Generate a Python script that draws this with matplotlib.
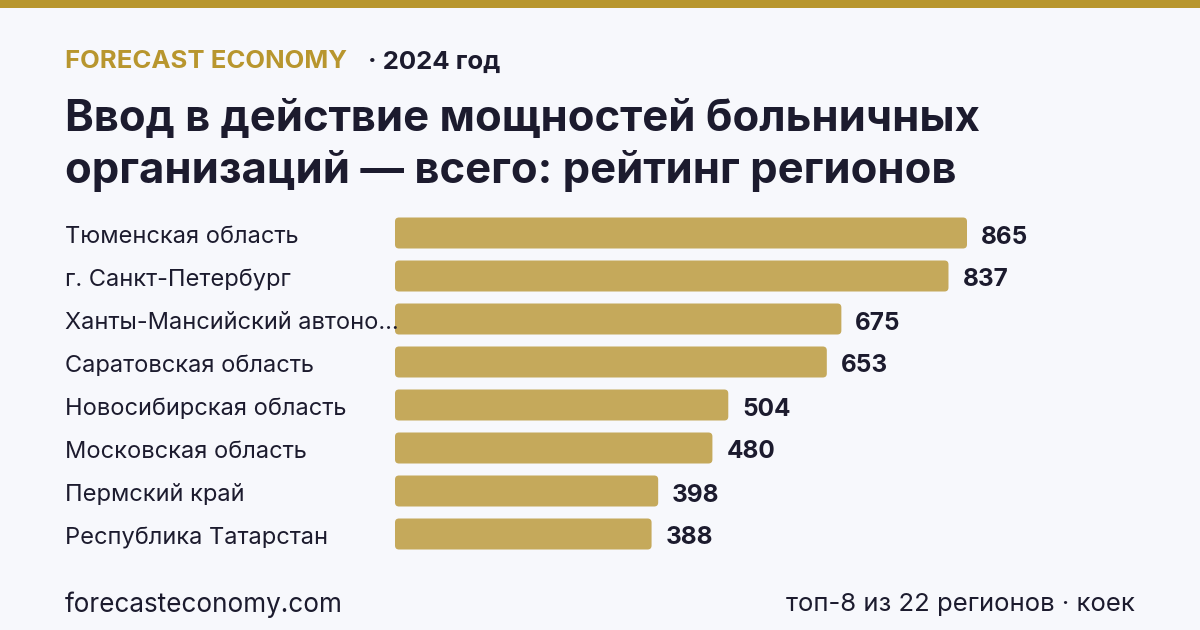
import matplotlib
matplotlib.use("Agg")
import matplotlib.pyplot as plt
from matplotlib.patches import FancyBboxPatch, Rectangle

plt.rcParams['font.family'] = ['Inter', 'DejaVu Sans']

regions = ["Тюменская область", "г. Санкт-Петербург", "Ханты-Мансийский автоно…",
           "Саратовская область", "Новосибирская область", "Московская область",
           "Пермский край", "Республика Татарстан"]
values = [865, 837, 675, 653, 504, 480, 398, 388]

BG = "#F7F8FC"
GOLD = "#B8962E"
BAR = "#C5A95B"
DARK = "#1C1B2E"

W, H = 1200, 630
fig = plt.figure(figsize=(12, 6.3), dpi=100, facecolor=BG)

def px(x, y):
    return x / W, 1 - y / H

# top band
fig.patches.append(Rectangle((0, 1 - 8 / H), 1, 8 / H, transform=fig.transFigure,
                             facecolor=GOLD, edgecolor="none"))

fig.text(*px(65, 62), "FORECAST ECONOMY", color=GOLD, fontsize=18.5, fontweight="bold",
         va="center", ha="left")
fig.text(*px(368, 62), "· 2024 год", color=DARK, fontsize=18.5, fontweight="bold",
         va="center", ha="left")
fig.text(*px(65, 131), "Ввод в действие мощностей больничных", color=DARK, fontsize=31.4,
         fontweight="bold", va="baseline", ha="left")
fig.text(*px(65, 183), "организаций — всего: рейтинг регионов", color=DARK, fontsize=31.4,
         fontweight="bold", va="baseline", ha="left")

# axes
ax_left, ax_right = 395, 1135
ax_top, ax_bot = 211.5, 555.5
ax = fig.add_axes([ax_left / W, 1 - ax_bot / H, (ax_right - ax_left) / W, (ax_bot - ax_top) / H])
ax.set_facecolor("none")
scale = 572 / 865  # px per unit
xmax = (ax_right - ax_left) / scale
ax.set_xlim(0, xmax)
n = len(values)
ax.set_ylim(n - 0.5, -0.5)
ax.axis("off")

bh = 31 / 43
bars = ax.barh(range(n), values, height=bh, color=BAR)
r_px = 4
for b in bars:
    x0, y0 = b.get_x(), b.get_y()
    w, h = b.get_width(), b.get_height()
    b.set_visible(False)
    rx = r_px / scale
    ry = r_px / 43
    p = FancyBboxPatch((x0, y0), w, h, boxstyle=f"round,pad=0,rounding_size={rx}",
                       mutation_aspect=ry / rx, facecolor=BAR, edgecolor="none")
    ax.add_patch(p)

for i, (lab, v) in enumerate(zip(regions, values)):
    ax.annotate(f"{v}", xy=(v, i), xytext=(14, -4), textcoords="offset pixels",
                va="center", ha="left", fontsize=17.5, fontweight="bold", color=DARK)
    ax.annotate(lab, xy=(0, i), xycoords=("axes fraction", "data"),
                xytext=(65 - ax_left, -4), textcoords="offset pixels",
                va="center", ha="left", fontsize=17, color=DARK)

fig.text(*px(65, 605), "forecasteconomy.com", color=DARK, fontsize=18.8, va="center", ha="left")
fig.text(*px(1135, 605), "топ-8 из 22 регионов · коек", color=DARK, fontsize=18.5,
         va="center", ha="right")

fig.savefig("out.png", dpi=100, facecolor=BG)
